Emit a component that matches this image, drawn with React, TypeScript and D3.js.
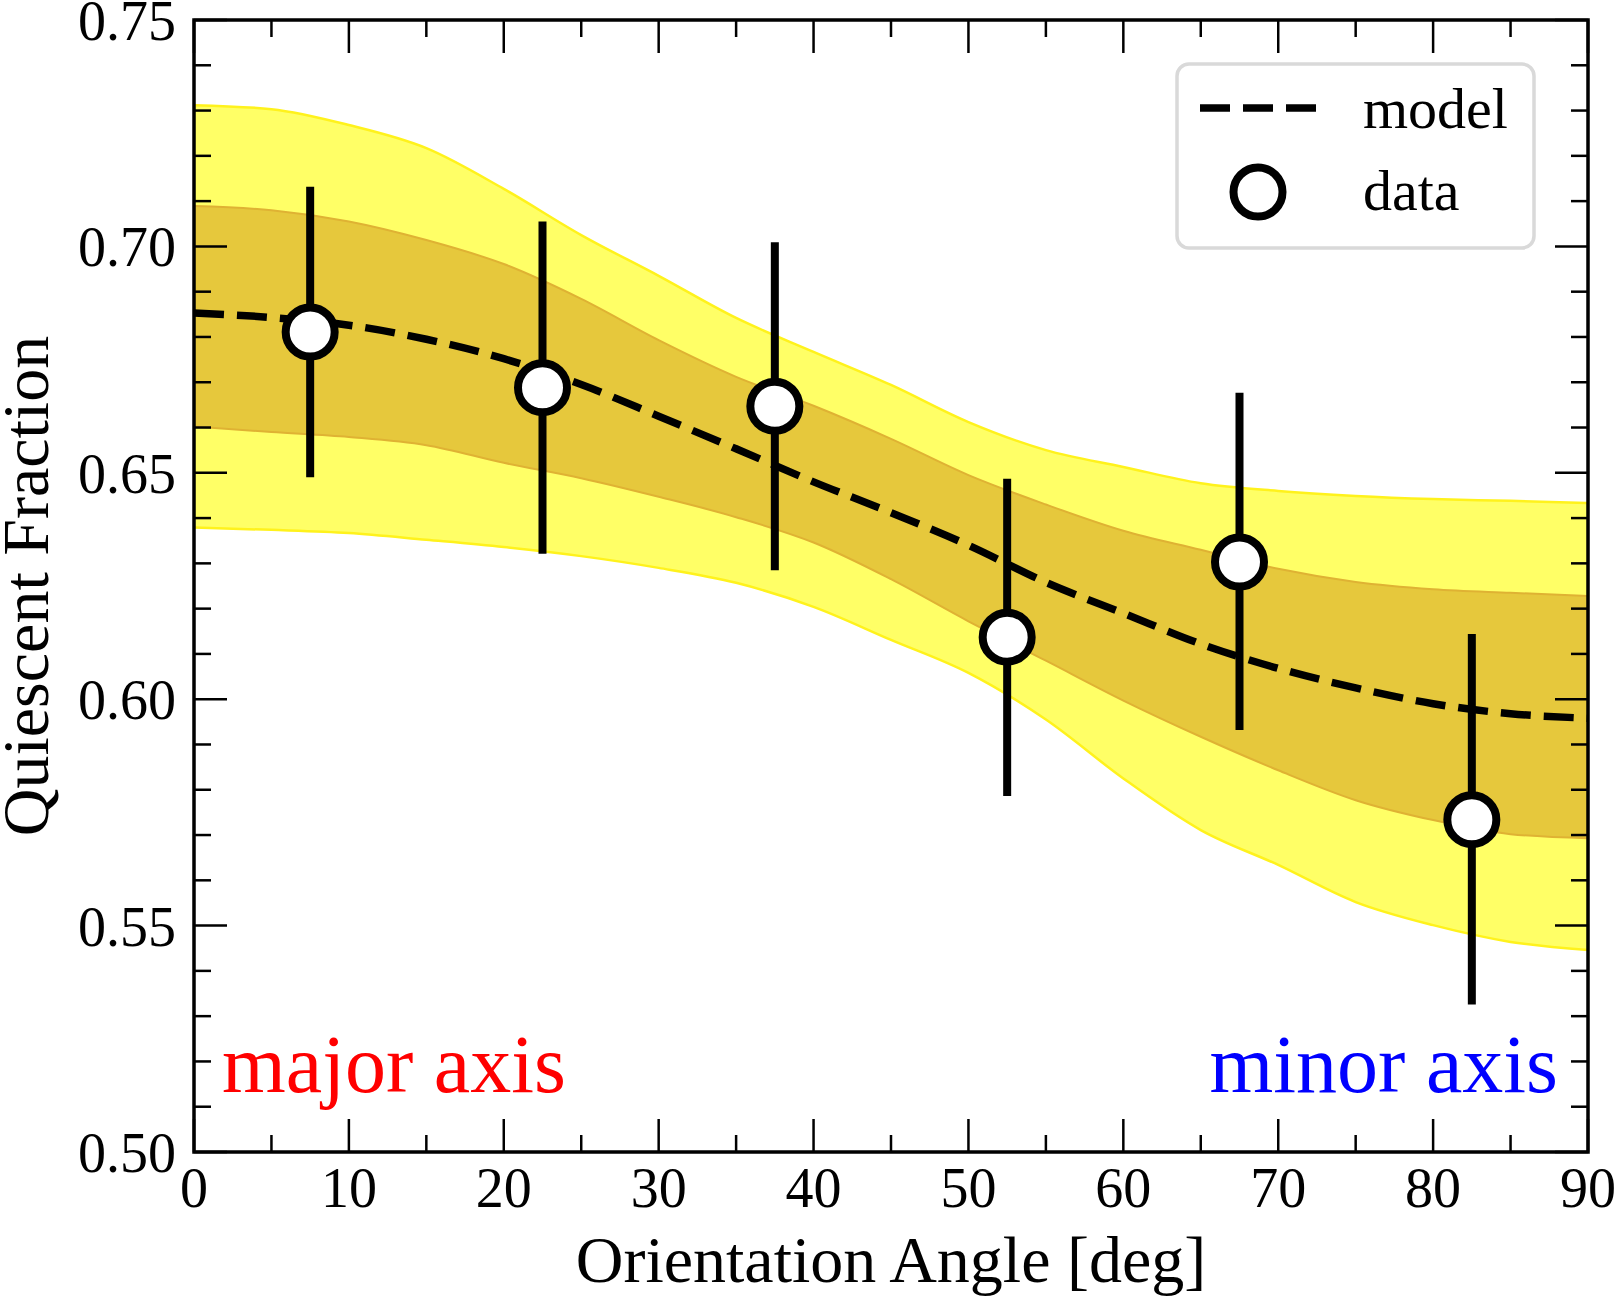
import React from "react";
import * as d3 from "d3";

// Model grid (orientation angle in degrees)
const angleGrid = [0, 5, 10, 15, 20, 25, 30, 35, 40, 45, 50, 55, 60, 65, 70, 75, 80, 85, 90];

// Median model prediction
const modelFrac = [
  0.6853, 0.6843, 0.6826, 0.6795, 0.6752, 0.6695, 0.6625, 0.6553, 0.648, 0.6412,
  0.634, 0.6258, 0.619, 0.6122, 0.6068, 0.6025, 0.599, 0.5968, 0.5958,
];

// 2-sigma envelope
const outerUpper = [
  0.7312, 0.7303, 0.7268, 0.7217, 0.7127, 0.7025, 0.6935, 0.6842, 0.6767, 0.6694,
  0.6612, 0.655, 0.6513, 0.6477, 0.646, 0.6449, 0.6442, 0.6438, 0.6433,
];
const outerLower = [
  0.6379, 0.6374, 0.6367, 0.6352, 0.6336, 0.6316, 0.629, 0.6257, 0.6204, 0.6131,
  0.6058, 0.5955, 0.5825, 0.5711, 0.5634, 0.5552, 0.5501, 0.5464, 0.5446,
];

// 1-sigma envelope
const innerUpper = [
  0.7089, 0.708, 0.7055, 0.7014, 0.6961, 0.6884, 0.6793, 0.6712, 0.6648, 0.6575,
  0.6495, 0.643, 0.6372, 0.633, 0.6288, 0.6259, 0.6243, 0.6235, 0.6228,
];
const innerLower = [
  0.6602, 0.659, 0.6579, 0.6561, 0.6522, 0.6488, 0.6447, 0.6402, 0.6346, 0.6265,
  0.6172, 0.6085, 0.5997, 0.5917, 0.5843, 0.5777, 0.5733, 0.5702, 0.5693,
];

// Measured quiescent fractions per angle bin
const dataAngle = [7.5, 22.5, 37.5, 52.5, 67.5, 82.5];
const dataFrac = [0.6811, 0.6688, 0.6647, 0.6137, 0.6303, 0.5734];
const dataErrLow = [0.649, 0.6321, 0.6285, 0.5786, 0.5932, 0.5326];
const dataErrHigh = [0.7132, 0.7055, 0.7009, 0.6487, 0.6677, 0.6144];

const xMajorTicks = [0, 10, 20, 30, 40, 50, 60, 70, 80, 90];
const yMajorTicks = [0.5, 0.55, 0.6, 0.65, 0.7, 0.75];

const W = 1617;
const H = 1298;
const left = 194;
const right = 1588;
const top = 20;
const bottom = 1152;
const FONT = '"Liberation Serif", "Times New Roman", serif';

export default function App() {
  const x = d3.scaleLinear().domain([0, 90]).range([left, right]);
  const y = d3.scaleLinear().domain([0.5, 0.75]).range([bottom, top]);

  const band = (hi: number[], lo: number[]) =>
    d3
      .area<number>()
      .x((d) => x(d))
      .y0((_, i) => y(lo[i]))
      .y1((_, i) => y(hi[i]))
      .curve(d3.curveMonotoneX)(angleGrid) || "";

  const edge = (vals: number[]) =>
    d3
      .line<number>()
      .x((d) => x(d))
      .y((_, i) => y(vals[i]))
      .curve(d3.curveMonotoneX)(angleGrid) || "";

  const modelPath = edge(modelFrac);

  const xMinor = d3.range(5, 90, 10);
  const yMinor = d3
    .range(0, 26)
    .map((i) => 0.5 + i * 0.01)
    .filter((v) => Math.round(v * 100) % 5 !== 0);

  const majorLen = 33;
  const minorLen = 17;

  const dash = "30 13";

  return (
    <svg
      width={W}
      height={H}
      style={{ position: "absolute", left: 0, top: 0, background: "#fff" }}
      fontFamily={FONT}
    >
      <defs>
        <clipPath id="plotClip">
          <rect x={left} y={top} width={right - left} height={bottom - top} />
        </clipPath>
      </defs>

      <g clipPath="url(#plotClip)">
        {/* 2-sigma band */}
        <path d={band(outerUpper, outerLower)} fill="#ffff66" stroke="none" />
        <path d={edge(outerUpper)} fill="none" stroke="#fff21c" strokeWidth={2.5} />
        <path d={edge(outerLower)} fill="none" stroke="#fff21c" strokeWidth={2.5} />
        {/* 1-sigma band */}
        <path d={band(innerUpper, innerLower)} fill="#e6c83c" stroke="none" />
        <path d={edge(innerUpper)} fill="none" stroke="#dfb233" strokeWidth={2} />
        <path d={edge(innerLower)} fill="none" stroke="#dfb233" strokeWidth={2} />
        {/* model */}
        <path d={modelPath} fill="none" stroke="#000" strokeWidth={7.5} strokeDasharray={dash} />
        {/* data error bars */}
        {dataAngle.map((a, i) => (
          <line
            key={"e" + i}
            x1={x(a)}
            x2={x(a)}
            y1={y(dataErrLow[i])}
            y2={y(dataErrHigh[i])}
            stroke="#000"
            strokeWidth={8}
          />
        ))}
        {dataAngle.map((a, i) => (
          <circle key={"c" + i} cx={x(a)} cy={y(dataFrac[i])} r={24.5} fill="#fff" stroke="#000" strokeWidth={8} />
        ))}
      </g>

      {/* ticks on all four sides, pointing inward */}
      <g stroke="#000" strokeWidth={2.5}>
        {xMajorTicks.map((t) => (
          <g key={"xm" + t}>
            <line x1={x(t)} x2={x(t)} y1={bottom} y2={bottom - majorLen} />
            <line x1={x(t)} x2={x(t)} y1={top} y2={top + majorLen} />
          </g>
        ))}
        {xMinor.map((t) => (
          <g key={"xn" + t}>
            <line x1={x(t)} x2={x(t)} y1={bottom} y2={bottom - minorLen} />
            <line x1={x(t)} x2={x(t)} y1={top} y2={top + minorLen} />
          </g>
        ))}
        {yMajorTicks.map((t) => (
          <g key={"ym" + t}>
            <line x1={left} x2={left + majorLen} y1={y(t)} y2={y(t)} />
            <line x1={right} x2={right - majorLen} y1={y(t)} y2={y(t)} />
          </g>
        ))}
        {yMinor.map((t) => (
          <g key={"yn" + t}>
            <line x1={left} x2={left + minorLen} y1={y(t)} y2={y(t)} />
            <line x1={right} x2={right - minorLen} y1={y(t)} y2={y(t)} />
          </g>
        ))}
      </g>

      {/* frame */}
      <rect x={left} y={top} width={right - left} height={bottom - top} fill="none" stroke="#000" strokeWidth={3.5} />

      {/* tick labels */}
      <g fontSize={56} fill="#000">
        {xMajorTicks.map((t) => (
          <text key={"xl" + t} x={x(t)} y={1207} textAnchor="middle">
            {t}
          </text>
        ))}
        {yMajorTicks.map((t) => (
          <text key={"yl" + t} x={176} y={y(t) + 20} textAnchor="end">
            {t.toFixed(2)}
          </text>
        ))}
      </g>

      {/* axis labels */}
      <text x={(left + right) / 2} y={1282} textAnchor="middle" fontSize={66} fill="#000">
        Orientation Angle [deg]
      </text>
      <text
        transform={`translate(48, ${(top + bottom) / 2}) rotate(-90)`}
        textAnchor="middle"
        fontSize={66}
        fill="#000"
      >
        Quiescent Fraction
      </text>

      {/* annotations */}
      <text x={222} y={1092} fontSize={82} fill="#ff0000">
        major axis
      </text>
      <text x={1558} y={1092} fontSize={82} fill="#0000ff" textAnchor="end">
        minor axis
      </text>

      {/* legend */}
      <g>
        <rect
          x={1177}
          y={64}
          width={357}
          height={184}
          rx={12}
          ry={12}
          fill="#fff"
          fillOpacity={0.8}
          stroke="#d9d9d9"
          strokeWidth={3.5}
        />
        <line x1={1200} x2={1317} y1={108} y2={108} stroke="#000" strokeWidth={7.5} strokeDasharray={dash} />
        <circle cx={1258} cy={192} r={24.5} fill="#fff" stroke="#000" strokeWidth={8} />
        <text x={1363} y={128} fontSize={58} fill="#000">
          model
        </text>
        <text x={1363} y={210} fontSize={58} fill="#000">
          data
        </text>
      </g>
    </svg>
  );
}
